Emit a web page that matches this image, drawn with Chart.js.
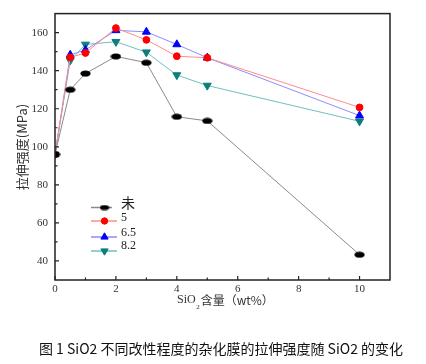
<!DOCTYPE html>
<html><head><meta charset="utf-8">
<script src="https://cdn.jsdelivr.net/npm/chart.js@4/dist/chart.umd.min.js"></script>
<style>html,body{margin:0;padding:0;background:#fff;}#wrap{width:426px;height:364px;position:relative;}</style>
</head><body><div id="wrap"><canvas id="c" width="426" height="364"></canvas></div>
<script>
const xValues = [0, 0.5, 1, 2, 3, 4, 5, 10];
const seriesNames = ['未', '5', '6.5', '8.2'];
const seriesUn = [96, 130, 138.5, 147.5, 144.2, 115.8, 113.6, 43.3];
const series5 = [96, 147, 149.3, 162.4, 156.2, 147.6, 146.8, 120.7];
const series65 = [96, 148.3, 150.9, 161.2, 160.4, 153.8, 146.8, 116.4];
const series82 = [96, 145.4, 153.8, 155.2, 149.7, 137.7, 132.2, 113.4];
const xTicks = [0, 2, 4, 6, 8, 10];
const yTicks = [40, 60, 80, 100, 120, 140, 160];
const xMinor = [1, 3, 5, 7, 9];
const yMinor = [50, 70, 90, 110, 130, 150];

const SERIF = "'Liberation Serif', 'Times New Roman', 'DejaVu Serif', serif";

function makeEll(w, h){
  const c = document.createElement('canvas');
  c.width = w; c.height = h;
  const g = c.getContext('2d'); g.fillStyle = '#000'; g.beginPath();
  g.ellipse(w/2, h/2, w/2-0.4, h/2-0.4, 0, 0, Math.PI*2); g.fill();
  return c;
}
const ell = makeEll(11, 7);
const ellLeg = makeEll(10, 6);

const toPts = arr => xValues.map((x,i)=>({x, y: arr[i]}));
const datasets = [
  {label: seriesNames[0], data: toPts(seriesUn), borderColor:'#8a8a8a', backgroundColor:'#000', pointStyle: ell, pointRadius:5, borderWidth:1},
  {label: seriesNames[1], data: toPts(series5), borderColor:'#ff8c8c', backgroundColor:'#ff0000', pointBorderColor:'#ff0000', pointStyle:'circle', pointRadius:3.4, borderWidth:1},
  {label: seriesNames[2], data: toPts(series65), borderColor:'#8c8cff', backgroundColor:'#0000ff', pointBorderColor:'#0000ff', pointStyle:'triangle', pointRadius:4.6, borderWidth:1},
  {label: seriesNames[3], data: toPts(series82), borderColor:'#6fc0bd', backgroundColor:'#0a7f7b', pointBorderColor:'#0a7f7b', pointStyle:'triangle', pointRotation:180, pointRadius:4.6, borderWidth:1},
];

const deco = {
  id:'deco',
  afterDraw(chart){
    const ctx = chart.ctx, a = chart.chartArea, xs = chart.scales.x, ys = chart.scales.y;
    ctx.save();
    ctx.strokeStyle = '#222'; ctx.lineWidth = 1.5;
    ctx.strokeRect(a.left, a.top, a.right-a.left, a.bottom-a.top);
    ctx.lineWidth = 1.2;
    ctx.beginPath();
    xTicks.forEach(v=>{const p = xs.getPixelForValue(v); ctx.moveTo(p, a.bottom); ctx.lineTo(p, a.bottom-4);});
    xMinor.forEach(v=>{const p = xs.getPixelForValue(v); ctx.moveTo(p, a.bottom); ctx.lineTo(p, a.bottom-2.5);});
    yTicks.forEach(v=>{const p = ys.getPixelForValue(v); ctx.moveTo(a.left, p); ctx.lineTo(a.left+4, p);});
    yMinor.forEach(v=>{const p = ys.getPixelForValue(v); ctx.moveTo(a.left, p); ctx.lineTo(a.left+2.5, p);});
    ctx.stroke();
    // legend
    const rows = [207.5, 221, 237, 251];
    const tys = [203, 218, 233, 246];
    const radii = [5, 3.2, 4.2, 4.2];
    chart.data.datasets.forEach((ds,i)=>{
      const y = rows[i];
      ctx.strokeStyle = ds.borderColor; ctx.lineWidth = 1.5;
      ctx.beginPath(); ctx.moveTo(91, y); ctx.lineTo(i===0?112:117, y); ctx.stroke();
      if (i===0){
        ctx.drawImage(ellLeg, 104.5-5, y-3);
      } else {
        ctx.fillStyle = ds.backgroundColor; ctx.strokeStyle = ds.pointBorderColor; ctx.lineWidth = 1;
        Chart.helpers.drawPoint(ctx, {pointStyle: ds.pointStyle, radius: radii[i], rotation: ds.pointRotation||0, borderWidth:1}, 104.5, y);
      }
      ctx.fillStyle = '#222'; ctx.textBaseline='middle'; ctx.textAlign='left';
      ctx.font = i===0 ? '14px "Noto Sans CJK SC"' : '12px ' + SERIF;
      ctx.fillText(ds.label, 121, tys[i]);
    });
    // y title
    ctx.save();
    ctx.translate(22, 147); ctx.rotate(-Math.PI/2);
    ctx.fillStyle = '#333'; ctx.textAlign='center'; ctx.textBaseline='middle';
    ctx.font = '13px "Noto Sans CJK SC"';
    ctx.fillText('拉伸强度(MPa)', 0, 0);
    ctx.restore();
    // x title
    ctx.fillStyle = '#333'; ctx.textAlign='left'; ctx.textBaseline='middle';
    ctx.font = '12px ' + SERIF;
    ctx.fillText('SiO', 177, 300);
    const w1 = ctx.measureText('SiO').width;
    ctx.font = '7px ' + SERIF;
    ctx.fillText('2', 177 + w1 + 0.5, 307);
    ctx.font = '12px "Noto Sans CJK SC"';
    ctx.fillText('含量（wt%）', 177 + w1 + 5, 300);
    // caption
    ctx.fillStyle = '#111'; ctx.textAlign='center';
    ctx.font = '14px "Noto Sans CJK SC"';
    ctx.fillText('图 1 SiO2 不同改性程度的杂化膜的拉伸强度随 SiO2 的变化', 221, 349);
    ctx.restore();
  }
};

new Chart(document.getElementById('c'), {
  type:'line',
  data:{datasets},
  options:{
    responsive:false, animation:false,
    layout:{padding:{left:0, top:7, right:36, bottom:0}},
    plugins:{legend:{display:false}, tooltip:{enabled:false}},
    elements:{line:{tension:0}},
    scales:{
      x:{type:'linear', min:0, max:11,
        afterBuildTicks: s=>{s.ticks = xTicks.map(v=>({value:v}));},
        afterFit: s=>{s.height = 84;},
        grid:{display:false, drawTicks:false}, border:{display:false},
        ticks:{padding:3, color:'#333', font:{family:SERIF, size:11}}},
      y:{type:'linear', min:30, max:170,
        afterBuildTicks: s=>{s.ticks = yTicks.map(v=>({value:v}));},
        afterFit: s=>{s.width = 55;},
        grid:{display:false, drawTicks:false}, border:{display:false},
        ticks:{padding:7, color:'#333', font:{family:SERIF, size:11}}}
    }
  },
  plugins:[deco]
});
</script></body></html>
